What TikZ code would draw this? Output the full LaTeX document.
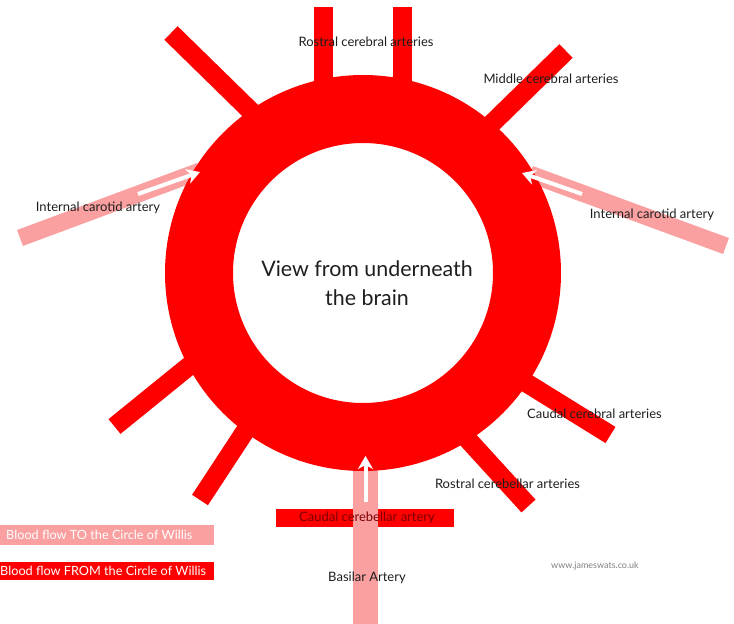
\documentclass[tikz,border=0pt]{standalone}
\usepackage{fontspec}
\setmainfont{Lato}
\usetikzlibrary{arrows.meta}
\definecolor{vred}{RGB}{255,0,0}
\definecolor{vpink}{RGB}{250,160,160}
\definecolor{labelc}{RGB}{30,30,30}
\definecolor{cbtext}{RGB}{125,0,0}
\begin{document}
\begin{tikzpicture}[x=1pt,y=-1pt,
  vessel/.style={draw=vred,line width=19pt},
  feeder/.style={draw=vpink,line width=17pt},
  flow/.style={draw=white,line width=4pt,-{Stealth[length=13pt,width=15pt,inset=4pt]}},
  lbl/.style={text=labelc,font=\fontsize{13}{15}\selectfont,inner sep=0pt},
  legendtxt/.style={text=white,font=\fontsize{12.7}{14}\selectfont,inner sep=0pt,anchor=west}]
\useasboundingbox (0,0) rectangle (734,624);
\coordinate (C) at (363,273);
% feeders (blood flow TO)
\draw[feeder] (20,238) -- (200,171);
\draw[feeder] (726,246) -- (530,174);
\fill[vred] (276,509) rectangle (454,527);
\draw[draw=vpink,line width=25pt] (365.5,624) -- (365.5,450);
% outgoing vessels
\draw[vessel] (171,33) -- (265,125);
\draw[vessel] (323.5,7) -- (323.5,110);
\draw[vessel] (402,7) -- (402,110);
\draw[vessel] (566,51) -- (475,140);
\draw[vessel] (114.5,426.5) -- (215,345);
\draw[vessel] (200,500) -- (271.5,391);
\draw[vessel] (610.5,435) -- (491,361);
\draw[vessel] (528.5,506) -- (441,410);
% ring
\fill[vred,even odd rule] (C) circle[radius=198] (C) circle[radius=130];
% flow arrows
\draw[flow] (138,194) -- (200,172);
\draw[flow] (582,194) -- (522,173);
\draw[flow] (365.5,502) -- (365.5,456);
% labels
\node[lbl] (rca) at (366,42) {Rostral cerebral arteries};
\node[lbl] (mca) at (551,79) {Middle cerebral arteries};
\node[lbl] (icl) at (98,208) {Internal carotid artery};
\node[lbl] (icr) at (652,215) {Internal carotid artery};
\node[text=labelc,font=\fontsize{21.4}{29}\selectfont,align=center] (view) at (367,283) {View from underneath\\the brain};
\node[lbl] (cca) at (594.5,414) {Caudal cerebral arteries};
\node[lbl] (rcba) at (507.5,484) {Rostral cerebellar arteries};
\node[lbl,text=cbtext] (ccba) at (367,518) {Caudal cerebellar artery};
\node[lbl] (ba) at (367,578) {Basilar Artery};
\node[text=gray,font=\fontsize{9}{11}\selectfont,inner sep=0pt] (web) at (595,566) {www.jameswats.co.uk};
% legend
\fill[vpink] (0,525) rectangle (214,545);
\node[legendtxt] (lto) at (6,535) {Blood flow TO the Circle of Willis};
\fill[vred] (0,562) rectangle (214,580);
\node[legendtxt] (lfrom) at (0,571) {Blood flow FROM the Circle of Willis};
\end{tikzpicture}
\end{document}
